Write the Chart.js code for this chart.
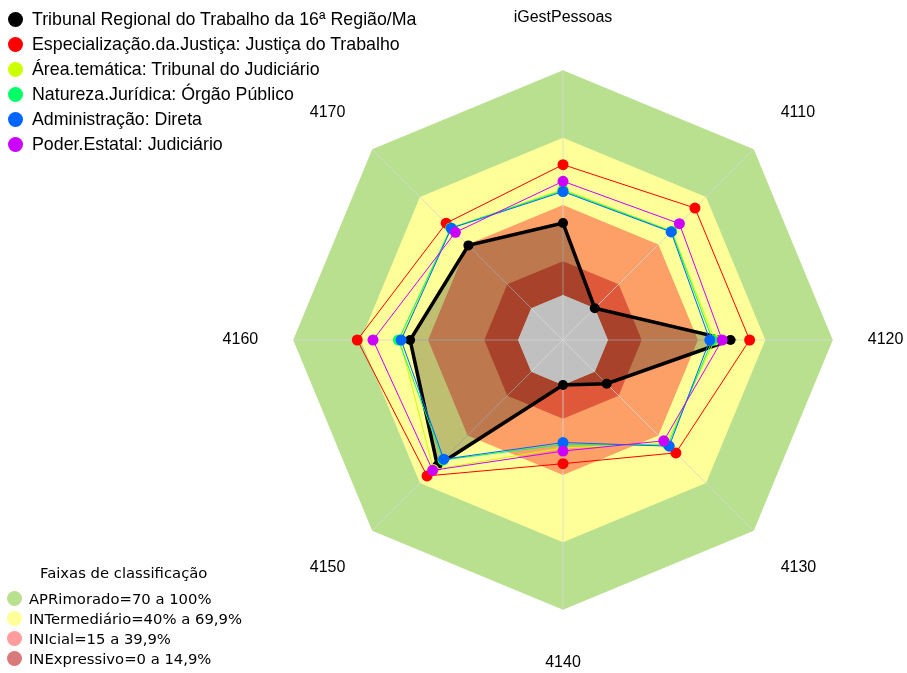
<!DOCTYPE html>
<html>
<head>
<meta charset="utf-8">
<script src="https://cdn.jsdelivr.net/npm/chart.js@4"></script>
<style>
  body { margin: 0; background: #fff; }
  #wrap { position: relative; width: 907px; height: 673px; }
  #radar { position: absolute; left: 0; top: 0; }
  .leg { position: absolute; white-space: nowrap; color: #000; }
  .dot { position: absolute; border-radius: 50%; }
  #series .leg { font: 17.8px "Liberation Sans", Arial, sans-serif; }
  #faixas .leg { font: 14.8px "DejaVu Sans", Verdana, sans-serif; }
</style>
</head>
<body>
<div id="wrap">
  <canvas id="radar" width="907" height="673"></canvas>
  <div id="series"></div>
  <div id="faixas"></div>
</div>
<script>
// eixos do radar
const eixos = ['iGestPessoas', '4110', '4120', '4130', '4140', '4150', '4160', '4170'];

// series (% por eixo)
const tribunal       = [32, 0, 54.5, 7.5, 0, 59, 48, 39.5];
const especializacao = [58, 63, 63, 51, 35, 65.5, 71.5, 53.5];
const areaTematica   = [47, 48.5, 47.5, 45, 28, 61.5, 52.5, 50.5];
const natureza       = [46.5, 48.3, 46.5, 46, 26.5, 55.5, 53.2, 50.5];
const administracao  = [46, 48, 45.3, 46.8, 25.6, 55, 52, 50.3];
const poder          = [50.6, 53.2, 50.8, 43.4, 29.4, 62, 64.5, 47.7];

const nomes = [
  'Tribunal Regional do Trabalho da 16ª Região/Ma',
  'Especialização.da.Justiça: Justiça do Trabalho',
  'Área.temática: Tribunal do Judiciário',
  'Natureza.Jurídica: Órgão Público',
  'Administração: Direta',
  'Poder.Estatal: Judiciário'
];
const cores = ['#000000', '#ff0000', '#ccff00', '#00ff66', '#0066ff', '#cc00ff'];

// faixas de classificacao
const faixaNomes = ['APRimorado=70 a 100%', 'INTermediário=40% a 69,9%', 'INIcial=15 a 39,9%', 'INExpressivo=0 a 14,9%'];
const faixaTopo = [100, 70, 40, 15];
const faixaCores = ['#b9e08f', '#ffff99', '#fda068', '#e0583a'];
const faixaLegCores = ['#b9e08f', '#ffff99', '#ff9c9c', '#d87a7a'];

const serieDados = [tribunal, especializacao, areaTematica, natureza, administracao, poder];

const datasets = [];
serieDados.forEach((d, i) => {
  const preto = i === 0;
  datasets.push({
    label: nomes[i],
    data: d,
    borderColor: cores[i],
    backgroundColor: preto ? 'rgba(0,0,0,0.25)' : 'rgba(0,0,0,0)',
    pointBackgroundColor: cores[i],
    pointBorderWidth: 0,
    pointRadius: preto ? 5 : 5.5,
    borderWidth: preto ? 3.5 : 1,
    fill: preto ? 'origin' : false,
    order: 6 - i
  });
});
faixaTopo.forEach((v, i) => {
  datasets.push({
    label: faixaNomes[i],
    data: eixos.map(() => v),
    backgroundColor: faixaCores[i],
    borderColor: 'rgba(0,0,0,0)',
    borderWidth: 1,
    pointRadius: 0,
    fill: 'origin',
    order: 20 - i
  });
});
// centro cinza (abaixo de zero)
datasets.push({
  label: 'base',
  data: eixos.map(() => 0),
  backgroundColor: '#c0c0c0',
  borderColor: 'rgba(0,0,0,0)',
  borderWidth: 1,
  pointRadius: 0,
  fill: 'start',
  order: 15
});
const idxBase = datasets.length - 1;

const linhasEixo = {
  id: 'linhasEixo',
  afterDatasetDraw(chart, args) {
    if (args.index !== idxBase) return;
    const r = chart.scales.r;
    const ctx = chart.ctx;
    ctx.save();
    ctx.strokeStyle = 'rgba(215,215,215,0.8)';
    ctx.lineWidth = 1;
    for (let i = 0; i < eixos.length; i++) {
      const p = r.getPointPositionForValue(i, r.max);
      ctx.beginPath();
      ctx.moveTo(r.xCenter, r.yCenter);
      ctx.lineTo(p.x, p.y);
      ctx.stroke();
    }
    ctx.restore();
  }
};

new Chart(document.getElementById('radar'), {
  type: 'radar',
  data: { labels: eixos, datasets: datasets },
  options: {
    responsive: false,
    animation: false,
    layout: { padding: { left: 219, right: 0, top: 9, bottom: 0 } },
    plugins: {
      legend: { display: false },
      tooltip: { enabled: false }
    },
    scales: {
      r: {
        min: -20,
        max: 100,
        ticks: { display: false },
        grid: { display: false },
        angleLines: { display: false },
        pointLabels: {
          color: '#000',
          padding: (c) => (c.index % 4 === 0 ? 43 : (c.index % 2 === 0 ? 35 : 38)),
          font: { family: '"Liberation Sans", Arial, sans-serif', size: 16 }
        }
      }
    }
  },
  plugins: [linhasEixo]
});

// legendas em HTML
function item(box, x, y, r, cor, texto, tx) {
  const d = document.createElement('div');
  d.className = 'dot';
  d.style.cssText = `left:${x - r}px;top:${y - r}px;width:${2 * r}px;height:${2 * r}px;background:${cor}`;
  box.appendChild(d);
  const t = document.createElement('div');
  t.className = 'leg';
  t.textContent = texto;
  t.style.left = tx + 'px';
  t.style.top = y + 'px';
  t.style.transform = 'translateY(-50%)';
  box.appendChild(t);
}
const boxSeries = document.getElementById('series');
nomes.forEach((n, i) => item(boxSeries, 15, 19 + i * 25, 7.5, cores[i], n, 32));

const boxFaixas = document.getElementById('faixas');
const tit = document.createElement('div');
tit.className = 'leg';
tit.textContent = 'Faixas de classificação';
tit.style.left = '40px';
tit.style.top = '572px';
tit.style.transform = 'translateY(-50%)';
boxFaixas.appendChild(tit);
faixaNomes.forEach((n, i) => item(boxFaixas, 14, 598 + i * 20, 7.5, faixaLegCores[i], n, 29));
</script>
</body>
</html>
